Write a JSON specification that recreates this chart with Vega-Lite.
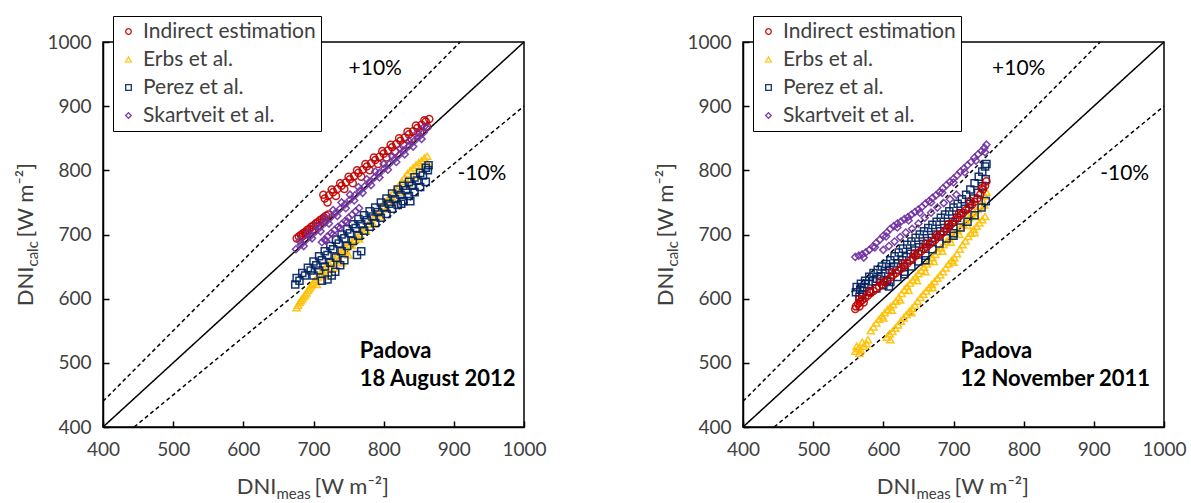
{
  "$schema": "https://vega.github.io/schema/vega-lite/v6.json",
  "padding": {"left": 14, "top": 14, "right": 5, "bottom": 5},
  "spacing": 107,
  "config": {
    "font": "Lato",
    "view": {"stroke": "black", "strokeWidth": 1.5},
    "axis": {"grid": false, "domainColor": "black", "domainWidth": 1.5, "tickColor": "black", "tickWidth": 1.5, "tickSize": -6, "labelFont": "Lato", "labelFontSize": 19, "labelColor": "#404040", "labelFlush": false},
    "axisX": {"labelPadding": 19},
    "axisY": {"labelPadding": 18},
    "legend": {"labelFont": "Lato", "labelFontSize": 21, "labelColor": "#404040", "labelLimit": 0, "symbolSize": 32, "symbolStrokeWidth": 1.3, "rowPadding": 6, "padding": 5, "labelOffset": 4, "strokeColor": "black", "fillColor": "white"}
  },
  "resolve": {"scale": {"color": "independent", "shape": "independent", "x": "independent", "y": "independent"}},
  "datasets": {
    "guides": [
      {"g": "eq", "x": 400, "y": 400}, {"g": "eq", "x": 1000, "y": 1000},
      {"g": "p10", "x": 400, "y": 440}, {"g": "p10", "x": 909.1, "y": 1000},
      {"g": "m10", "x": 444.4, "y": 400}, {"g": "m10", "x": 1000, "y": 900}
    ],
    "notes": [
      {"p": 1, "b": 0, "t": "+10%", "x": 788, "y": 958},
      {"p": 1, "b": 0, "t": "-10%", "x": 940, "y": 794},
      {"p": 1, "b": 1, "t": "Padova", "x": 766, "y": 518},
      {"p": 1, "b": 1, "t": "18 August 2012", "x": 766, "y": 475},
      {"p": 2, "b": 0, "t": "+10%", "x": 793, "y": 958},
      {"p": 2, "b": 0, "t": "-10%", "x": 944, "y": 794},
      {"p": 2, "b": 1, "t": "Padova", "x": 710, "y": 518},
      {"p": 2, "b": 1, "t": "12 November 2011", "x": 710, "y": 475}
    ],
    "pts": [
      {"p":1,"s":"E","x":676,"y":586},{"p":1,"s":"E","x":678,"y":590},{"p":1,"s":"E","x":680,"y":594},{"p":1,"s":"E","x":682,"y":597},{"p":1,"s":"E","x":684,"y":600},{"p":1,"s":"E","x":686,"y":603},{"p":1,"s":"E","x":688,"y":606},{"p":1,"s":"E","x":690,"y":609},{"p":1,"s":"E","x":692,"y":613},{"p":1,"s":"E","x":694,"y":616},{"p":1,"s":"E","x":696,"y":619},{"p":1,"s":"E","x":698,"y":622},{"p":1,"s":"E","x":700,"y":625},{"p":1,"s":"E","x":703,"y":629},{"p":1,"s":"E","x":706,"y":633},{"p":1,"s":"E","x":709,"y":638},{"p":1,"s":"E","x":712,"y":642},{"p":1,"s":"E","x":715,"y":646},{"p":1,"s":"E","x":718,"y":650},{"p":1,"s":"E","x":722,"y":654},{"p":1,"s":"E","x":726,"y":658},{"p":1,"s":"E","x":730,"y":663},{"p":1,"s":"E","x":734,"y":667},{"p":1,"s":"E","x":738,"y":672},{"p":1,"s":"E","x":742,"y":676},{"p":1,"s":"E","x":746,"y":680},{"p":1,"s":"E","x":750,"y":684},{"p":1,"s":"E","x":754,"y":688},{"p":1,"s":"E","x":758,"y":692},{"p":1,"s":"E","x":762,"y":696},{"p":1,"s":"E","x":766,"y":701},{"p":1,"s":"E","x":770,"y":706},{"p":1,"s":"E","x":774,"y":711},{"p":1,"s":"E","x":778,"y":716},{"p":1,"s":"E","x":782,"y":721},{"p":1,"s":"E","x":786,"y":726},{"p":1,"s":"E","x":790,"y":732},{"p":1,"s":"E","x":794,"y":738},{"p":1,"s":"E","x":798,"y":744},{"p":1,"s":"E","x":802,"y":750},{"p":1,"s":"E","x":806,"y":755},{"p":1,"s":"E","x":810,"y":760},{"p":1,"s":"E","x":814,"y":766},{"p":1,"s":"E","x":818,"y":771},{"p":1,"s":"E","x":822,"y":777},{"p":1,"s":"E","x":826,"y":783},{"p":1,"s":"E","x":830,"y":789},{"p":1,"s":"E","x":834,"y":795},{"p":1,"s":"E","x":838,"y":800},{"p":1,"s":"E","x":842,"y":804},{"p":1,"s":"E","x":846,"y":808},{"p":1,"s":"E","x":850,"y":812},{"p":1,"s":"E","x":854,"y":815},{"p":1,"s":"E","x":858,"y":819},{"p":1,"s":"E","x":862,"y":822},{"p":1,"s":"E","x":705,"y":622},{"p":1,"s":"E","x":715,"y":636},{"p":1,"s":"E","x":725,"y":648},{"p":1,"s":"E","x":735,"y":660},{"p":1,"s":"E","x":745,"y":672},{"p":1,"s":"E","x":755,"y":683},{"p":1,"s":"E","x":765,"y":693},{"p":1,"s":"E","x":775,"y":706},{"p":1,"s":"E","x":785,"y":716},{"p":1,"s":"E","x":795,"y":728},{"p":1,"s":"E","x":805,"y":740},{"p":1,"s":"E","x":815,"y":752},{"p":1,"s":"E","x":825,"y":766},{"p":1,"s":"E","x":835,"y":780},{"p":1,"s":"E","x":845,"y":792},{"p":1,"s":"E","x":855,"y":802},{"p":1,"s":"E","x":862,"y":812},{"p":1,"s":"E","x":722,"y":640},{"p":1,"s":"E","x":730,"y":648},{"p":1,"s":"E","x":740,"y":656},{"p":1,"s":"E","x":750,"y":668},
      {"p":1,"s":"P","x":676,"y":632},{"p":1,"s":"P","x":684,"y":640},{"p":1,"s":"P","x":692,"y":648},{"p":1,"s":"P","x":700,"y":658},{"p":1,"s":"P","x":708,"y":666},{"p":1,"s":"P","x":716,"y":674},{"p":1,"s":"P","x":724,"y":682},{"p":1,"s":"P","x":732,"y":692},{"p":1,"s":"P","x":740,"y":700},{"p":1,"s":"P","x":748,"y":708},{"p":1,"s":"P","x":756,"y":716},{"p":1,"s":"P","x":764,"y":724},{"p":1,"s":"P","x":772,"y":730},{"p":1,"s":"P","x":780,"y":736},{"p":1,"s":"P","x":788,"y":742},{"p":1,"s":"P","x":796,"y":750},{"p":1,"s":"P","x":804,"y":756},{"p":1,"s":"P","x":812,"y":764},{"p":1,"s":"P","x":820,"y":770},{"p":1,"s":"P","x":828,"y":776},{"p":1,"s":"P","x":836,"y":782},{"p":1,"s":"P","x":844,"y":789},{"p":1,"s":"P","x":852,"y":796},{"p":1,"s":"P","x":860,"y":804},{"p":1,"s":"P","x":864,"y":808},
      {"p":1,"s":"P","x":674,"y":622},{"p":1,"s":"P","x":680,"y":628},{"p":1,"s":"P","x":688,"y":636},{"p":1,"s":"P","x":696,"y":644},{"p":1,"s":"P","x":704,"y":652},{"p":1,"s":"P","x":712,"y":660},{"p":1,"s":"P","x":720,"y":668},{"p":1,"s":"P","x":728,"y":677},{"p":1,"s":"P","x":736,"y":686},{"p":1,"s":"P","x":744,"y":694},{"p":1,"s":"P","x":752,"y":702},{"p":1,"s":"P","x":760,"y":710},{"p":1,"s":"P","x":768,"y":716},{"p":1,"s":"P","x":776,"y":722},{"p":1,"s":"P","x":784,"y":728},{"p":1,"s":"P","x":792,"y":735},{"p":1,"s":"P","x":800,"y":742},{"p":1,"s":"P","x":808,"y":748},{"p":1,"s":"P","x":816,"y":755},{"p":1,"s":"P","x":824,"y":762},{"p":1,"s":"P","x":832,"y":769},{"p":1,"s":"P","x":840,"y":776},{"p":1,"s":"P","x":848,"y":784},{"p":1,"s":"P","x":856,"y":792},{"p":1,"s":"P","x":863,"y":800},
      {"p":1,"s":"P","x":700,"y":636},{"p":1,"s":"P","x":708,"y":644},{"p":1,"s":"P","x":716,"y":650},{"p":1,"s":"P","x":724,"y":656},{"p":1,"s":"P","x":732,"y":664},{"p":1,"s":"P","x":740,"y":674},{"p":1,"s":"P","x":748,"y":682},{"p":1,"s":"P","x":756,"y":690},{"p":1,"s":"P","x":764,"y":698},{"p":1,"s":"P","x":772,"y":706},{"p":1,"s":"P","x":780,"y":712},{"p":1,"s":"P","x":788,"y":718},{"p":1,"s":"P","x":796,"y":726},{"p":1,"s":"P","x":804,"y":732},{"p":1,"s":"P","x":812,"y":740},{"p":1,"s":"P","x":820,"y":746},{"p":1,"s":"P","x":828,"y":752},{"p":1,"s":"P","x":836,"y":760},{"p":1,"s":"P","x":844,"y":766},{"p":1,"s":"P","x":852,"y":774},{"p":1,"s":"P","x":860,"y":782},
      {"p":1,"s":"P","x":712,"y":628},{"p":1,"s":"P","x":720,"y":630},{"p":1,"s":"P","x":726,"y":636},{"p":1,"s":"P","x":731,"y":642},{"p":1,"s":"P","x":738,"y":652},{"p":1,"s":"P","x":744,"y":660},{"p":1,"s":"P","x":762,"y":668},{"p":1,"s":"P","x":768,"y":674},{"p":1,"s":"P","x":825,"y":748},{"p":1,"s":"P","x":838,"y":752},
      {"p":1,"s":"I","x":676,"y":694},{"p":1,"s":"I","x":679,"y":697},{"p":1,"s":"I","x":682,"y":699},{"p":1,"s":"I","x":685,"y":702},{"p":1,"s":"I","x":688,"y":704},{"p":1,"s":"I","x":691,"y":707},{"p":1,"s":"I","x":694,"y":709},{"p":1,"s":"I","x":697,"y":712},{"p":1,"s":"I","x":700,"y":714},{"p":1,"s":"I","x":703,"y":717},{"p":1,"s":"I","x":706,"y":719},{"p":1,"s":"I","x":709,"y":722},{"p":1,"s":"I","x":712,"y":724},{"p":1,"s":"I","x":715,"y":727},{"p":1,"s":"I","x":718,"y":729},{"p":1,"s":"I","x":721,"y":731},{"p":1,"s":"I","x":684,"y":697},{"p":1,"s":"I","x":690,"y":701},{"p":1,"s":"I","x":698,"y":707},{"p":1,"s":"I","x":706,"y":713},{"p":1,"s":"I","x":714,"y":720},
      {"p":1,"s":"I","x":716,"y":756},{"p":1,"s":"I","x":722,"y":761},{"p":1,"s":"I","x":728,"y":766},{"p":1,"s":"I","x":734,"y":771},{"p":1,"s":"I","x":740,"y":776},{"p":1,"s":"I","x":746,"y":781},{"p":1,"s":"I","x":752,"y":786},{"p":1,"s":"I","x":758,"y":791},{"p":1,"s":"I","x":764,"y":796},{"p":1,"s":"I","x":770,"y":801},{"p":1,"s":"I","x":776,"y":806},{"p":1,"s":"I","x":782,"y":811},{"p":1,"s":"I","x":788,"y":816},{"p":1,"s":"I","x":794,"y":821},{"p":1,"s":"I","x":800,"y":826},{"p":1,"s":"I","x":806,"y":831},{"p":1,"s":"I","x":812,"y":836},{"p":1,"s":"I","x":818,"y":841},{"p":1,"s":"I","x":824,"y":846},{"p":1,"s":"I","x":830,"y":851},{"p":1,"s":"I","x":836,"y":856},{"p":1,"s":"I","x":842,"y":861},{"p":1,"s":"I","x":848,"y":866},{"p":1,"s":"I","x":854,"y":871},{"p":1,"s":"I","x":860,"y":876},{"p":1,"s":"I","x":865,"y":880},
      {"p":1,"s":"I","x":714,"y":762},{"p":1,"s":"I","x":726,"y":770},{"p":1,"s":"I","x":738,"y":780},{"p":1,"s":"I","x":750,"y":790},{"p":1,"s":"I","x":762,"y":800},{"p":1,"s":"I","x":774,"y":810},{"p":1,"s":"I","x":786,"y":820},{"p":1,"s":"I","x":798,"y":830},{"p":1,"s":"I","x":810,"y":840},{"p":1,"s":"I","x":822,"y":850},{"p":1,"s":"I","x":834,"y":860},{"p":1,"s":"I","x":846,"y":870},{"p":1,"s":"I","x":858,"y":878},
      {"p":1,"s":"I","x":720,"y":750},{"p":1,"s":"I","x":732,"y":760},{"p":1,"s":"I","x":744,"y":771},{"p":1,"s":"I","x":756,"y":780},{"p":1,"s":"I","x":768,"y":790},{"p":1,"s":"I","x":780,"y":800},{"p":1,"s":"I","x":792,"y":810},{"p":1,"s":"I","x":804,"y":820},{"p":1,"s":"I","x":816,"y":829},{"p":1,"s":"I","x":828,"y":839},{"p":1,"s":"I","x":840,"y":849},{"p":1,"s":"I","x":852,"y":859},{"p":1,"s":"I","x":862,"y":868},
      {"p":1,"s":"S","x":675,"y":677},{"p":1,"s":"S","x":682,"y":684},{"p":1,"s":"S","x":689,"y":691},{"p":1,"s":"S","x":696,"y":698},{"p":1,"s":"S","x":703,"y":705},{"p":1,"s":"S","x":710,"y":712},{"p":1,"s":"S","x":717,"y":719},{"p":1,"s":"S","x":724,"y":726},{"p":1,"s":"S","x":731,"y":733},{"p":1,"s":"S","x":738,"y":740},{"p":1,"s":"S","x":745,"y":747},{"p":1,"s":"S","x":752,"y":754},{"p":1,"s":"S","x":759,"y":761},{"p":1,"s":"S","x":766,"y":768},{"p":1,"s":"S","x":773,"y":775},{"p":1,"s":"S","x":780,"y":782},{"p":1,"s":"S","x":787,"y":789},{"p":1,"s":"S","x":794,"y":796},{"p":1,"s":"S","x":801,"y":803},{"p":1,"s":"S","x":808,"y":810},{"p":1,"s":"S","x":815,"y":817},{"p":1,"s":"S","x":822,"y":824},{"p":1,"s":"S","x":829,"y":831},{"p":1,"s":"S","x":836,"y":838},{"p":1,"s":"S","x":843,"y":845},{"p":1,"s":"S","x":850,"y":852},{"p":1,"s":"S","x":857,"y":859},{"p":1,"s":"S","x":862,"y":866},
      {"p":1,"s":"S","x":680,"y":690},{"p":1,"s":"S","x":692,"y":702},{"p":1,"s":"S","x":704,"y":714},{"p":1,"s":"S","x":716,"y":726},{"p":1,"s":"S","x":728,"y":738},{"p":1,"s":"S","x":740,"y":750},{"p":1,"s":"S","x":752,"y":762},{"p":1,"s":"S","x":764,"y":774},{"p":1,"s":"S","x":776,"y":786},{"p":1,"s":"S","x":788,"y":798},{"p":1,"s":"S","x":800,"y":810},{"p":1,"s":"S","x":812,"y":822},{"p":1,"s":"S","x":824,"y":834},{"p":1,"s":"S","x":836,"y":846},{"p":1,"s":"S","x":848,"y":858},{"p":1,"s":"S","x":858,"y":868},
      {"p":1,"s":"S","x":686,"y":682},{"p":1,"s":"S","x":698,"y":694},{"p":1,"s":"S","x":710,"y":705},{"p":1,"s":"S","x":722,"y":717},{"p":1,"s":"S","x":734,"y":729},{"p":1,"s":"S","x":746,"y":741},{"p":1,"s":"S","x":758,"y":753},{"p":1,"s":"S","x":770,"y":765},{"p":1,"s":"S","x":782,"y":777},{"p":1,"s":"S","x":794,"y":789},{"p":1,"s":"S","x":806,"y":801},{"p":1,"s":"S","x":818,"y":813},{"p":1,"s":"S","x":830,"y":825},{"p":1,"s":"S","x":842,"y":837},{"p":1,"s":"S","x":854,"y":849},
      {"p":1,"s":"S","x":712,"y":688},{"p":1,"s":"S","x":716,"y":692},{"p":1,"s":"S","x":720,"y":697},{"p":1,"s":"S","x":725,"y":702},{"p":1,"s":"S","x":730,"y":707},{"p":1,"s":"S","x":735,"y":712},{"p":1,"s":"S","x":740,"y":716},{"p":1,"s":"S","x":745,"y":721},{"p":1,"s":"S","x":750,"y":726},{"p":1,"s":"S","x":755,"y":731},{"p":1,"s":"S","x":760,"y":736},{"p":1,"s":"S","x":765,"y":741},{"p":1,"s":"S","x":718,"y":690},{"p":1,"s":"S","x":728,"y":700},{"p":1,"s":"S","x":738,"y":710},{"p":1,"s":"S","x":748,"y":720},

      {"p":2,"s":"E","x":560,"y":518},{"p":2,"s":"E","x":564,"y":522},{"p":2,"s":"E","x":568,"y":520},{"p":2,"s":"E","x":572,"y":526},{"p":2,"s":"E","x":576,"y":530},{"p":2,"s":"E","x":562,"y":526},{"p":2,"s":"E","x":570,"y":532},{"p":2,"s":"E","x":578,"y":536},{"p":2,"s":"E","x":566,"y":515},
      {"p":2,"s":"E","x":582,"y":550},{"p":2,"s":"E","x":586,"y":556},{"p":2,"s":"E","x":590,"y":562},{"p":2,"s":"E","x":594,"y":568},{"p":2,"s":"E","x":598,"y":573},{"p":2,"s":"E","x":602,"y":578},{"p":2,"s":"E","x":606,"y":583},{"p":2,"s":"E","x":610,"y":587},{"p":2,"s":"E","x":614,"y":591},{"p":2,"s":"E","x":618,"y":596},{"p":2,"s":"E","x":622,"y":602},{"p":2,"s":"E","x":626,"y":608},{"p":2,"s":"E","x":630,"y":614},{"p":2,"s":"E","x":634,"y":619},{"p":2,"s":"E","x":638,"y":624},{"p":2,"s":"E","x":642,"y":629},{"p":2,"s":"E","x":646,"y":634},{"p":2,"s":"E","x":650,"y":639},{"p":2,"s":"E","x":654,"y":644},{"p":2,"s":"E","x":658,"y":649},{"p":2,"s":"E","x":662,"y":654},{"p":2,"s":"E","x":666,"y":658},{"p":2,"s":"E","x":670,"y":664},{"p":2,"s":"E","x":674,"y":669},{"p":2,"s":"E","x":678,"y":674},{"p":2,"s":"E","x":682,"y":679},{"p":2,"s":"E","x":686,"y":684},{"p":2,"s":"E","x":690,"y":689},{"p":2,"s":"E","x":694,"y":694},{"p":2,"s":"E","x":698,"y":698},{"p":2,"s":"E","x":702,"y":702},{"p":2,"s":"E","x":706,"y":706},{"p":2,"s":"E","x":710,"y":711},{"p":2,"s":"E","x":714,"y":716},{"p":2,"s":"E","x":718,"y":721},{"p":2,"s":"E","x":722,"y":726},{"p":2,"s":"E","x":726,"y":730},{"p":2,"s":"E","x":730,"y":734},{"p":2,"s":"E","x":734,"y":739},{"p":2,"s":"E","x":738,"y":744},{"p":2,"s":"E","x":742,"y":752},{"p":2,"s":"E","x":745,"y":760},{"p":2,"s":"E","x":747,"y":766},
      {"p":2,"s":"E","x":600,"y":570},{"p":2,"s":"E","x":612,"y":582},{"p":2,"s":"E","x":624,"y":598},{"p":2,"s":"E","x":636,"y":613},{"p":2,"s":"E","x":648,"y":628},{"p":2,"s":"E","x":660,"y":642},{"p":2,"s":"E","x":672,"y":658},{"p":2,"s":"E","x":684,"y":674},{"p":2,"s":"E","x":696,"y":688},{"p":2,"s":"E","x":708,"y":700},{"p":2,"s":"E","x":720,"y":714},{"p":2,"s":"E","x":732,"y":728},{"p":2,"s":"E","x":744,"y":746},
      {"p":2,"s":"E","x":605,"y":540},{"p":2,"s":"E","x":609,"y":545},{"p":2,"s":"E","x":613,"y":549},{"p":2,"s":"E","x":617,"y":554},{"p":2,"s":"E","x":621,"y":559},{"p":2,"s":"E","x":625,"y":565},{"p":2,"s":"E","x":629,"y":570},{"p":2,"s":"E","x":633,"y":575},{"p":2,"s":"E","x":637,"y":580},{"p":2,"s":"E","x":641,"y":585},{"p":2,"s":"E","x":645,"y":590},{"p":2,"s":"E","x":649,"y":596},{"p":2,"s":"E","x":653,"y":602},{"p":2,"s":"E","x":657,"y":607},{"p":2,"s":"E","x":661,"y":612},{"p":2,"s":"E","x":665,"y":617},{"p":2,"s":"E","x":669,"y":622},{"p":2,"s":"E","x":673,"y":627},{"p":2,"s":"E","x":677,"y":632},{"p":2,"s":"E","x":681,"y":637},{"p":2,"s":"E","x":685,"y":642},{"p":2,"s":"E","x":689,"y":648},{"p":2,"s":"E","x":693,"y":654},{"p":2,"s":"E","x":697,"y":659},{"p":2,"s":"E","x":701,"y":664},{"p":2,"s":"E","x":705,"y":670},{"p":2,"s":"E","x":709,"y":677},{"p":2,"s":"E","x":713,"y":684},{"p":2,"s":"E","x":717,"y":690},{"p":2,"s":"E","x":721,"y":697},{"p":2,"s":"E","x":725,"y":702},{"p":2,"s":"E","x":729,"y":708},{"p":2,"s":"E","x":733,"y":713},{"p":2,"s":"E","x":737,"y":718},{"p":2,"s":"E","x":741,"y":723},{"p":2,"s":"E","x":745,"y":728},
      {"p":2,"s":"E","x":610,"y":536},{"p":2,"s":"E","x":640,"y":578},{"p":2,"s":"E","x":670,"y":617},{"p":2,"s":"E","x":700,"y":657},{"p":2,"s":"E","x":730,"y":703},
      {"p":2,"s":"P","x":562,"y":618},{"p":2,"s":"P","x":568,"y":623},{"p":2,"s":"P","x":574,"y":628},{"p":2,"s":"P","x":580,"y":634},{"p":2,"s":"P","x":586,"y":640},{"p":2,"s":"P","x":592,"y":645},{"p":2,"s":"P","x":598,"y":650},{"p":2,"s":"P","x":604,"y":654},{"p":2,"s":"P","x":610,"y":660},{"p":2,"s":"P","x":616,"y":666},{"p":2,"s":"P","x":622,"y":672},{"p":2,"s":"P","x":628,"y":678},{"p":2,"s":"P","x":634,"y":684},{"p":2,"s":"P","x":640,"y":689},{"p":2,"s":"P","x":646,"y":695},{"p":2,"s":"P","x":652,"y":700},{"p":2,"s":"P","x":658,"y":705},{"p":2,"s":"P","x":664,"y":710},{"p":2,"s":"P","x":670,"y":715},{"p":2,"s":"P","x":676,"y":720},{"p":2,"s":"P","x":682,"y":726},{"p":2,"s":"P","x":688,"y":731},{"p":2,"s":"P","x":694,"y":736},{"p":2,"s":"P","x":700,"y":742},{"p":2,"s":"P","x":706,"y":748},{"p":2,"s":"P","x":712,"y":755},{"p":2,"s":"P","x":718,"y":762},{"p":2,"s":"P","x":724,"y":770},{"p":2,"s":"P","x":730,"y":780},{"p":2,"s":"P","x":736,"y":790},{"p":2,"s":"P","x":741,"y":798},{"p":2,"s":"P","x":745,"y":806},{"p":2,"s":"P","x":747,"y":810},
      {"p":2,"s":"P","x":561,"y":610},{"p":2,"s":"P","x":567,"y":614},{"p":2,"s":"P","x":573,"y":618},{"p":2,"s":"P","x":579,"y":623},{"p":2,"s":"P","x":585,"y":627},{"p":2,"s":"P","x":591,"y":631},{"p":2,"s":"P","x":597,"y":635},{"p":2,"s":"P","x":603,"y":640},{"p":2,"s":"P","x":609,"y":645},{"p":2,"s":"P","x":615,"y":650},{"p":2,"s":"P","x":621,"y":655},{"p":2,"s":"P","x":627,"y":660},{"p":2,"s":"P","x":633,"y":665},{"p":2,"s":"P","x":639,"y":670},{"p":2,"s":"P","x":645,"y":675},{"p":2,"s":"P","x":651,"y":680},{"p":2,"s":"P","x":657,"y":685},{"p":2,"s":"P","x":663,"y":690},{"p":2,"s":"P","x":669,"y":695},{"p":2,"s":"P","x":675,"y":700},{"p":2,"s":"P","x":681,"y":705},{"p":2,"s":"P","x":687,"y":710},{"p":2,"s":"P","x":693,"y":715},{"p":2,"s":"P","x":699,"y":720},{"p":2,"s":"P","x":705,"y":726},{"p":2,"s":"P","x":711,"y":733},{"p":2,"s":"P","x":717,"y":740},{"p":2,"s":"P","x":723,"y":748},{"p":2,"s":"P","x":729,"y":756},{"p":2,"s":"P","x":735,"y":765},{"p":2,"s":"P","x":741,"y":775},{"p":2,"s":"P","x":746,"y":786},
      {"p":2,"s":"P","x":570,"y":606},{"p":2,"s":"P","x":580,"y":611},{"p":2,"s":"P","x":590,"y":616},{"p":2,"s":"P","x":600,"y":621},{"p":2,"s":"P","x":610,"y":626},{"p":2,"s":"P","x":620,"y":634},{"p":2,"s":"P","x":630,"y":642},{"p":2,"s":"P","x":640,"y":650},{"p":2,"s":"P","x":650,"y":658},{"p":2,"s":"P","x":660,"y":667},{"p":2,"s":"P","x":670,"y":677},{"p":2,"s":"P","x":680,"y":686},{"p":2,"s":"P","x":690,"y":694},{"p":2,"s":"P","x":700,"y":702},{"p":2,"s":"P","x":710,"y":711},{"p":2,"s":"P","x":720,"y":720},{"p":2,"s":"P","x":730,"y":730},{"p":2,"s":"P","x":740,"y":742},{"p":2,"s":"P","x":746,"y":752},
      {"p":2,"s":"P","x":566,"y":603},{"p":2,"s":"P","x":605,"y":628},{"p":2,"s":"P","x":608,"y":619},{"p":2,"s":"P","x":630,"y":638},{"p":2,"s":"P","x":660,"y":660},{"p":2,"s":"P","x":700,"y":698},
      {"p":2,"s":"I","x":561,"y":588},{"p":2,"s":"I","x":564,"y":592},{"p":2,"s":"I","x":567,"y":595},{"p":2,"s":"I","x":570,"y":598},{"p":2,"s":"I","x":574,"y":601},{"p":2,"s":"I","x":578,"y":605},{"p":2,"s":"I","x":582,"y":609},{"p":2,"s":"I","x":586,"y":612},{"p":2,"s":"I","x":590,"y":616},{"p":2,"s":"I","x":594,"y":619},{"p":2,"s":"I","x":598,"y":622},{"p":2,"s":"I","x":602,"y":626},{"p":2,"s":"I","x":606,"y":629},{"p":2,"s":"I","x":610,"y":633},{"p":2,"s":"I","x":614,"y":637},{"p":2,"s":"I","x":618,"y":640},{"p":2,"s":"I","x":622,"y":644},{"p":2,"s":"I","x":626,"y":647},{"p":2,"s":"I","x":630,"y":651},{"p":2,"s":"I","x":634,"y":655},{"p":2,"s":"I","x":638,"y":659},{"p":2,"s":"I","x":642,"y":663},{"p":2,"s":"I","x":646,"y":667},{"p":2,"s":"I","x":650,"y":671},{"p":2,"s":"I","x":654,"y":674},{"p":2,"s":"I","x":658,"y":678},{"p":2,"s":"I","x":662,"y":681},{"p":2,"s":"I","x":666,"y":685},{"p":2,"s":"I","x":670,"y":689},{"p":2,"s":"I","x":674,"y":692},{"p":2,"s":"I","x":678,"y":696},{"p":2,"s":"I","x":682,"y":700},{"p":2,"s":"I","x":686,"y":704},{"p":2,"s":"I","x":690,"y":708},{"p":2,"s":"I","x":694,"y":712},{"p":2,"s":"I","x":698,"y":717},{"p":2,"s":"I","x":702,"y":722},{"p":2,"s":"I","x":706,"y":726},{"p":2,"s":"I","x":710,"y":730},{"p":2,"s":"I","x":714,"y":734},{"p":2,"s":"I","x":718,"y":738},{"p":2,"s":"I","x":722,"y":742},{"p":2,"s":"I","x":726,"y":746},{"p":2,"s":"I","x":730,"y":751},{"p":2,"s":"I","x":734,"y":756},{"p":2,"s":"I","x":738,"y":762},{"p":2,"s":"I","x":742,"y":770},{"p":2,"s":"I","x":745,"y":776},{"p":2,"s":"I","x":747,"y":783},
      {"p":2,"s":"I","x":566,"y":600},{"p":2,"s":"I","x":580,"y":612},{"p":2,"s":"I","x":596,"y":627},{"p":2,"s":"I","x":612,"y":642},{"p":2,"s":"I","x":628,"y":655},{"p":2,"s":"I","x":644,"y":670},{"p":2,"s":"I","x":660,"y":686},{"p":2,"s":"I","x":676,"y":699},{"p":2,"s":"I","x":692,"y":716},{"p":2,"s":"I","x":708,"y":733},{"p":2,"s":"I","x":724,"y":752},{"p":2,"s":"I","x":740,"y":772},
      {"p":2,"s":"I","x":560,"y":584},{"p":2,"s":"I","x":566,"y":588},{"p":2,"s":"I","x":572,"y":594},
      {"p":2,"s":"S","x":560,"y":665},{"p":2,"s":"S","x":565,"y":667},{"p":2,"s":"S","x":570,"y":669},{"p":2,"s":"S","x":575,"y":672},{"p":2,"s":"S","x":580,"y":676},{"p":2,"s":"S","x":585,"y":681},{"p":2,"s":"S","x":590,"y":687},{"p":2,"s":"S","x":595,"y":692},{"p":2,"s":"S","x":600,"y":698},{"p":2,"s":"S","x":605,"y":703},{"p":2,"s":"S","x":610,"y":709},{"p":2,"s":"S","x":615,"y":713},{"p":2,"s":"S","x":620,"y":717},{"p":2,"s":"S","x":625,"y":720},{"p":2,"s":"S","x":630,"y":724},{"p":2,"s":"S","x":635,"y":727},{"p":2,"s":"S","x":640,"y":731},{"p":2,"s":"S","x":645,"y":735},{"p":2,"s":"S","x":650,"y":739},{"p":2,"s":"S","x":655,"y":743},{"p":2,"s":"S","x":660,"y":748},{"p":2,"s":"S","x":665,"y":752},{"p":2,"s":"S","x":670,"y":757},{"p":2,"s":"S","x":675,"y":761},{"p":2,"s":"S","x":680,"y":766},{"p":2,"s":"S","x":685,"y":772},{"p":2,"s":"S","x":690,"y":777},{"p":2,"s":"S","x":695,"y":782},{"p":2,"s":"S","x":700,"y":787},{"p":2,"s":"S","x":705,"y":792},{"p":2,"s":"S","x":710,"y":798},{"p":2,"s":"S","x":715,"y":803},{"p":2,"s":"S","x":720,"y":808},{"p":2,"s":"S","x":725,"y":813},{"p":2,"s":"S","x":730,"y":820},{"p":2,"s":"S","x":735,"y":825},{"p":2,"s":"S","x":740,"y":830},{"p":2,"s":"S","x":744,"y":835},{"p":2,"s":"S","x":747,"y":840},
      {"p":2,"s":"S","x":572,"y":664},{"p":2,"s":"S","x":588,"y":680},{"p":2,"s":"S","x":604,"y":697},{"p":2,"s":"S","x":620,"y":711},{"p":2,"s":"S","x":636,"y":722},{"p":2,"s":"S","x":652,"y":734},{"p":2,"s":"S","x":668,"y":750},{"p":2,"s":"S","x":684,"y":765},{"p":2,"s":"S","x":700,"y":781},{"p":2,"s":"S","x":716,"y":797},{"p":2,"s":"S","x":732,"y":815},{"p":2,"s":"S","x":745,"y":828},
      {"p":2,"s":"S","x":600,"y":676},{"p":2,"s":"S","x":608,"y":682},{"p":2,"s":"S","x":616,"y":689},{"p":2,"s":"S","x":624,"y":696},{"p":2,"s":"S","x":632,"y":703},{"p":2,"s":"S","x":641,"y":709},{"p":2,"s":"S","x":650,"y":717},{"p":2,"s":"S","x":659,"y":726},{"p":2,"s":"S","x":668,"y":734},{"p":2,"s":"S","x":677,"y":742},{"p":2,"s":"S","x":686,"y":749},{"p":2,"s":"S","x":695,"y":755},{"p":2,"s":"S","x":704,"y":762}
    ]
  },
  "hconcat": [
    {
      "width": 421,
      "height": 385,
      "layer": [
        {
          "data": {"name": "guides"},
          "mark": {"type": "line", "color": "black", "strokeWidth": 1.5},
          "encoding": {
            "x": {"field": "x", "type": "quantitative", "scale": {"domain": [400, 1000], "nice": false}, "axis": {"title": null, "format": "d", "values": [400, 500, 600, 700, 800, 900, 1000]}},
            "y": {"field": "y", "type": "quantitative", "scale": {"domain": [400, 1000], "nice": false}, "axis": {"title": null, "format": "d", "values": [400, 500, 600, 700, 800, 900, 1000]}},
            "detail": {"field": "g"},
            "strokeDash": {"field": "g", "type": "nominal", "scale": {"domain": ["eq", "p10", "m10"], "range": [[1, 0], [4, 3], [4, 3]]}, "legend": null}
          }
        },
        {
          "data": {"name": "pts"},
          "transform": [{"filter": "datum.p == 1"}],
          "mark": {"type": "point", "filled": false, "size": 50, "strokeWidth": 1.5, "opacity": 0.9},
          "encoding": {
            "x": {"field": "x", "type": "quantitative"},
            "y": {"field": "y", "type": "quantitative"},
            "color": {"field": "s", "type": "nominal", "scale": {"domain": ["I", "E", "P", "S"], "range": ["#C00000", "#FFC000", "#002060", "#7030A0"]},
              "legend": {"title": null, "orient": "none", "legendX": 10, "legendY": -26, "labelExpr": "{'I': 'Indirect estimation', 'E': 'Erbs et al.', 'P': 'Perez et al.', 'S': 'Skartveit et al.'}[datum.label]"}},
            "shape": {"field": "s", "type": "nominal", "scale": {"domain": ["I", "E", "P", "S"], "range": ["circle", "triangle-up", "square", "diamond"]},
              "legend": {"title": null, "orient": "none", "legendX": 10, "legendY": -26, "labelExpr": "{'I': 'Indirect estimation', 'E': 'Erbs et al.', 'P': 'Perez et al.', 'S': 'Skartveit et al.'}[datum.label]"}}
          }
        },
        {
          "data": {"name": "notes"},
          "transform": [{"filter": "datum.p == 1 && datum.b == 0"}],
          "mark": {"type": "text", "fontSize": 21, "color": "black", "align": "center", "baseline": "middle"},
          "encoding": {"x": {"field": "x", "type": "quantitative"}, "y": {"field": "y", "type": "quantitative"}, "text": {"field": "t"}}
        },
        {
          "data": {"name": "notes"},
          "transform": [{"filter": "datum.p == 1 && datum.b == 1"}],
          "mark": {"type": "text", "fontSize": 22, "fontWeight": "bold", "color": "black", "align": "left", "baseline": "middle"},
          "encoding": {"x": {"field": "x", "type": "quantitative"}, "y": {"field": "y", "type": "quantitative"}, "text": {"field": "t"}}
        },
        {"data": {"values": [{"t": "DNI"}]}, "mark": {"type": "text", "align": "right", "baseline": "alphabetic", "dx": -37, "dy": 67, "fontSize": 22, "color": "#404040"}, "encoding": {"x": {"datum": 700}, "y": {"datum": 400}, "text": {"field": "t"}}},
        {"data": {"values": [{"t": "meas"}]}, "mark": {"type": "text", "align": "left", "baseline": "alphabetic", "dx": -37, "dy": 72, "fontSize": 15, "color": "#404040"}, "encoding": {"x": {"datum": 700}, "y": {"datum": 400}, "text": {"field": "t"}}},
        {"data": {"values": [{"t": "[W m⁻²]"}]}, "mark": {"type": "text", "align": "left", "baseline": "alphabetic", "dx": 1, "dy": 67, "fontSize": 22, "color": "#404040"}, "encoding": {"x": {"datum": 700}, "y": {"datum": 400}, "text": {"field": "t"}}},
        {"data": {"values": [{"t": "DNI"}]}, "mark": {"type": "text", "angle": 270, "align": "right", "baseline": "alphabetic", "dx": -32, "dy": -70, "fontSize": 22, "color": "#404040"}, "encoding": {"x": {"datum": 400}, "y": {"datum": 700}, "text": {"field": "t"}}},
        {"data": {"values": [{"t": "calc"}]}, "mark": {"type": "text", "angle": 270, "align": "left", "baseline": "alphabetic", "dx": -32, "dy": -65, "fontSize": 15, "color": "#404040"}, "encoding": {"x": {"datum": 400}, "y": {"datum": 700}, "text": {"field": "t"}}},
        {"data": {"values": [{"t": "[W m⁻²]"}]}, "mark": {"type": "text", "angle": 270, "align": "left", "baseline": "alphabetic", "dx": -3, "dy": -70, "fontSize": 22, "color": "#404040"}, "encoding": {"x": {"datum": 400}, "y": {"datum": 700}, "text": {"field": "t"}}}
      ]
    },
    {
      "width": 421,
      "height": 385,
      "layer": [
        {
          "data": {"name": "guides"},
          "mark": {"type": "line", "color": "black", "strokeWidth": 1.5},
          "encoding": {
            "x": {"field": "x", "type": "quantitative", "scale": {"domain": [400, 1000], "nice": false}, "axis": {"title": null, "format": "d", "values": [400, 500, 600, 700, 800, 900, 1000]}},
            "y": {"field": "y", "type": "quantitative", "scale": {"domain": [400, 1000], "nice": false}, "axis": {"title": null, "format": "d", "values": [400, 500, 600, 700, 800, 900, 1000]}},
            "detail": {"field": "g"},
            "strokeDash": {"field": "g", "type": "nominal", "scale": {"domain": ["eq", "p10", "m10"], "range": [[1, 0], [4, 3], [4, 3]]}, "legend": null}
          }
        },
        {
          "data": {"name": "pts"},
          "transform": [{"filter": "datum.p == 2"}],
          "mark": {"type": "point", "filled": false, "size": 50, "strokeWidth": 1.5, "opacity": 0.9},
          "encoding": {
            "x": {"field": "x", "type": "quantitative"},
            "y": {"field": "y", "type": "quantitative"},
            "color": {"field": "s", "type": "nominal", "scale": {"domain": ["I", "E", "P", "S"], "range": ["#C00000", "#FFC000", "#002060", "#7030A0"]},
              "legend": {"title": null, "orient": "none", "legendX": 10, "legendY": -26, "labelExpr": "{'I': 'Indirect estimation', 'E': 'Erbs et al.', 'P': 'Perez et al.', 'S': 'Skartveit et al.'}[datum.label]"}},
            "shape": {"field": "s", "type": "nominal", "scale": {"domain": ["I", "E", "P", "S"], "range": ["circle", "triangle-up", "square", "diamond"]},
              "legend": {"title": null, "orient": "none", "legendX": 10, "legendY": -26, "labelExpr": "{'I': 'Indirect estimation', 'E': 'Erbs et al.', 'P': 'Perez et al.', 'S': 'Skartveit et al.'}[datum.label]"}}
          }
        },
        {
          "data": {"name": "notes"},
          "transform": [{"filter": "datum.p == 2 && datum.b == 0"}],
          "mark": {"type": "text", "fontSize": 21, "color": "black", "align": "center", "baseline": "middle"},
          "encoding": {"x": {"field": "x", "type": "quantitative"}, "y": {"field": "y", "type": "quantitative"}, "text": {"field": "t"}}
        },
        {
          "data": {"name": "notes"},
          "transform": [{"filter": "datum.p == 2 && datum.b == 1"}],
          "mark": {"type": "text", "fontSize": 22, "fontWeight": "bold", "color": "black", "align": "left", "baseline": "middle"},
          "encoding": {"x": {"field": "x", "type": "quantitative"}, "y": {"field": "y", "type": "quantitative"}, "text": {"field": "t"}}
        },
        {"data": {"values": [{"t": "DNI"}]}, "mark": {"type": "text", "align": "right", "baseline": "alphabetic", "dx": -37, "dy": 67, "fontSize": 22, "color": "#404040"}, "encoding": {"x": {"datum": 700}, "y": {"datum": 400}, "text": {"field": "t"}}},
        {"data": {"values": [{"t": "meas"}]}, "mark": {"type": "text", "align": "left", "baseline": "alphabetic", "dx": -37, "dy": 72, "fontSize": 15, "color": "#404040"}, "encoding": {"x": {"datum": 700}, "y": {"datum": 400}, "text": {"field": "t"}}},
        {"data": {"values": [{"t": "[W m⁻²]"}]}, "mark": {"type": "text", "align": "left", "baseline": "alphabetic", "dx": 1, "dy": 67, "fontSize": 22, "color": "#404040"}, "encoding": {"x": {"datum": 700}, "y": {"datum": 400}, "text": {"field": "t"}}},
        {"data": {"values": [{"t": "DNI"}]}, "mark": {"type": "text", "angle": 270, "align": "right", "baseline": "alphabetic", "dx": -32, "dy": -70, "fontSize": 22, "color": "#404040"}, "encoding": {"x": {"datum": 400}, "y": {"datum": 700}, "text": {"field": "t"}}},
        {"data": {"values": [{"t": "calc"}]}, "mark": {"type": "text", "angle": 270, "align": "left", "baseline": "alphabetic", "dx": -32, "dy": -65, "fontSize": 15, "color": "#404040"}, "encoding": {"x": {"datum": 400}, "y": {"datum": 700}, "text": {"field": "t"}}},
        {"data": {"values": [{"t": "[W m⁻²]"}]}, "mark": {"type": "text", "angle": 270, "align": "left", "baseline": "alphabetic", "dx": -3, "dy": -70, "fontSize": 22, "color": "#404040"}, "encoding": {"x": {"datum": 400}, "y": {"datum": 700}, "text": {"field": "t"}}}
      ]
    }
  ]
}
